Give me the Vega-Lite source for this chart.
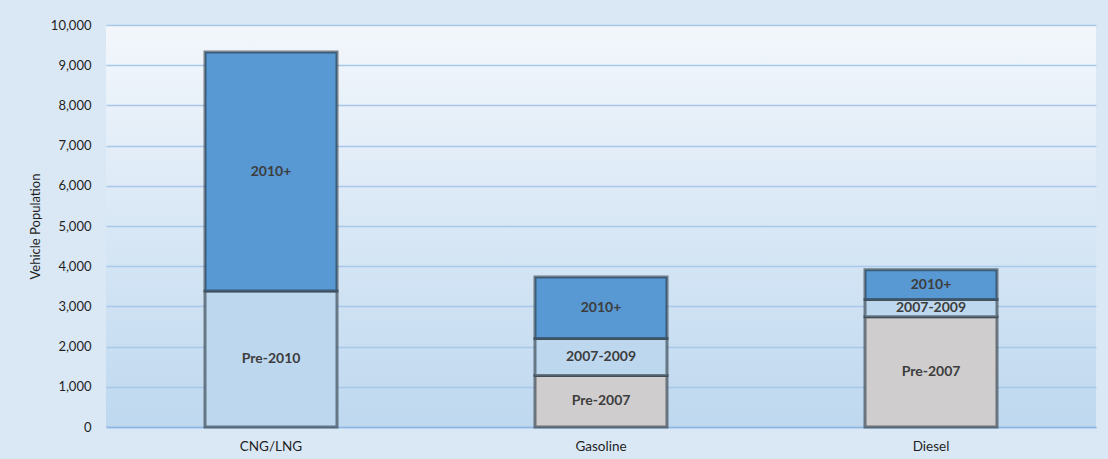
{
  "$schema": "https://vega.github.io/schema/vega-lite/v6.json",
  "width": 990,
  "height": 402,
  "autosize": {"type": "none"},
  "padding": {"left": 106, "top": 25, "right": 12, "bottom": 32},
  "background": "#dae8f5",
  "config": {
    "view": {
      "stroke": null,
      "fill": {"gradient": "linear", "x1": 0, "y1": 0, "x2": 0, "y2": 1, "stops": [{"offset": 0, "color": "#f3f7fc"}, {"offset": 1, "color": "#bed8ef"}]}
    },
    "font": "Lato"
  },
  "data": {
    "values": [
      {"fuel": "CNG/LNG", "segment": "Pre-2010", "ord": 1, "value": 3380},
      {"fuel": "CNG/LNG", "segment": "2010+", "ord": 3, "value": 5950},
      {"fuel": "Gasoline", "segment": "Pre-2007", "ord": 1, "value": 1280},
      {"fuel": "Gasoline", "segment": "2007-2009", "ord": 2, "value": 920},
      {"fuel": "Gasoline", "segment": "2010+", "ord": 3, "value": 1530},
      {"fuel": "Diesel", "segment": "Pre-2007", "ord": 1, "value": 2740},
      {"fuel": "Diesel", "segment": "2007-2009", "ord": 2, "value": 430},
      {"fuel": "Diesel", "segment": "2010+", "ord": 3, "value": 740}
    ]
  },
  "transform": [
    {"stack": "value", "groupby": ["fuel"], "sort": [{"field": "ord", "order": "ascending"}], "as": ["v0", "v1"]},
    {"calculate": "(datum.v0 + datum.v1) / 2", "as": "mid"}
  ],
  "encoding": {
    "x": {
      "field": "fuel",
      "type": "nominal",
      "sort": ["CNG/LNG", "Gasoline", "Diesel"],
      "scale": {"paddingInner": 0.6, "paddingOuter": 0.3},
      "axis": {
        "title": null,
        "labelAngle": 0,
        "labelFont": "Lato",
        "labelFontSize": 13.5,
        "labelColor": "#1f1f1f",
        "labelPadding": 12,
        "ticks": false,
        "domain": true,
        "domainColor": "#8db4e2",
        "domainWidth": 1.5,
        "grid": false
      }
    }
  },
  "layer": [
    {
      "mark": {"type": "bar", "stroke": "#2a3540", "strokeOpacity": 0.6, "strokeWidth": 3},
      "encoding": {
        "y": {
          "field": "v0",
          "type": "quantitative",
          "scale": {"domain": [0, 10000]},
          "axis": {
            "title": "Vehicle Population",
            "titleFont": "Lato",
            "titleFontSize": 13,
            "titleFontWeight": "normal",
            "titleColor": "#1f1f1f",
            "titlePadding": 8,
            "values": [0, 1000, 2000, 3000, 4000, 5000, 6000, 7000, 8000, 9000, 10000],
            "format": ",d",
            "labelFont": "Lato",
            "labelFontSize": 13,
            "labelColor": "#1f1f1f",
            "labelPadding": 15,
            "ticks": false,
            "domain": false,
            "grid": true,
            "gridColor": "#a9c7e8",
            "gridWidth": 1.5
          }
        },
        "y2": {"field": "v1"},
        "color": {
          "field": "segment",
          "type": "nominal",
          "scale": {"domain": ["Pre-2007", "Pre-2010", "2007-2009", "2010+"], "range": ["#cfcdcd", "#bdd7ee", "#bdd7ee", "#5898d3"]},
          "legend": null
        }
      }
    },
    {
      "mark": {"type": "text", "font": "Lato", "fontSize": 14, "fontWeight": "bold", "color": "#3d3d3d", "baseline": "middle"},
      "encoding": {
        "y": {"field": "mid", "type": "quantitative"},
        "text": {"field": "segment"}
      }
    }
  ]
}
